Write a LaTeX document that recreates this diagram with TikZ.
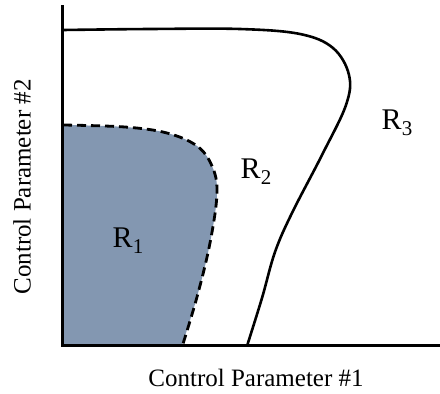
\documentclass[tikz,border=0pt]{standalone}
\usepackage{fontspec}
\setmainfont{Liberation Serif}
\usepackage{tikz}
\usetikzlibrary{positioning}

\definecolor{regfill}{RGB}{131,151,177}
\newcommand{\regn}[1]{R\raisebox{-0.45ex}{\fontsize{21}{21}\selectfont #1}}

\tikzset{
  axis/.style={line width=3pt},
  border/.style={line width=2.6pt, line join=round},
  dborder/.style={line width=2.8pt, dash pattern=on 9pt off 5pt},
  reglabel/.style={font=\fontsize{30}{30}\selectfont, inner sep=0pt},
  axlabel/.style={font=\fontsize{25}{25}\selectfont, inner sep=0pt}
}

\begin{document}
\begin{tikzpicture}[x=1pt,y=-1pt]
    \useasboundingbox (0,0) rectangle (440,394);
    \coordinate (o) at (62,345);
    \coordinate (ytop) at (62,5);
    \coordinate (xend) at (440,345);

    % region 1
    \fill[regfill] plot[smooth, tension=0.6] coordinates {(63,125) (125,127) (167,133) (197,146) (212,166) (217,193) (210,243) (197,297) (182,345)} -- (o) -- cycle;
    \draw[dborder] plot[smooth, tension=0.6] coordinates {(63,125) (125,127) (167,133) (197,146) (212,166) (217,193) (210,243) (197,297) (182,347)};

    % boundary R2/R3
    \draw[border] plot[smooth, tension=0.6] coordinates {(63,30) (150,29) (240,29) (300,34) (333,48) (349,75) (346,105) (322,155) (292,213) (275,252) (262,298) (247,346)};

    % axes
    \draw[axis] (ytop) -- (o) -- (xend);

    \node[reglabel] (r1) at (128,241) {\regn{1}};
    \node[reglabel] (r2) at (256,172) {\regn{2}};
    \node[reglabel] (r3) at (397,123) {\regn{3}};

    \node[axlabel] (xl) at (256,378) {Control Parameter \#1};
    \node[axlabel, rotate=90] (yl) at (22,187) {Control Parameter \#2};
\end{tikzpicture}
\end{document}
